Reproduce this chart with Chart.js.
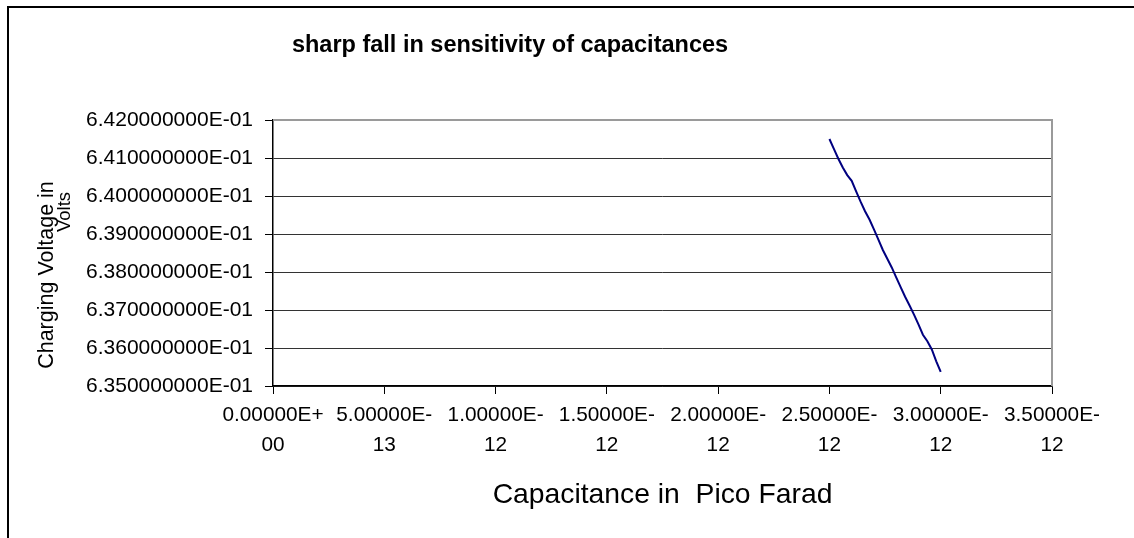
<!DOCTYPE html>
<html>
<head>
<meta charset="utf-8">
<script src="https://cdn.jsdelivr.net/npm/chart.js@4.4.1/dist/chart.umd.min.js"></script>
<style>
  html, body { margin: 0; padding: 0; background: #fff; }
  #wrap { width: 1134px; height: 538px; position: relative; }
</style>
</head>
<body>
<div id="wrap"><canvas id="c" width="1134" height="538"></canvas></div>
<script>
// ---- data (capacitance in farads, voltage in volts) ----
const capacitance = [
  2.50e-12, 2.52e-12, 2.54e-12, 2.56e-12, 2.58e-12, 2.60e-12, 2.62e-12, 2.64e-12,
  2.66e-12, 2.68e-12, 2.70e-12, 2.72e-12, 2.74e-12, 2.76e-12, 2.78e-12, 2.80e-12,
  2.82e-12, 2.84e-12, 2.86e-12, 2.88e-12, 2.90e-12, 2.92e-12, 2.94e-12, 2.96e-12,
  2.98e-12, 3.00e-12
];
const voltage = [
  0.64150, 0.64124, 0.64098, 0.64075, 0.64055, 0.64040, 0.64012, 0.63985,
  0.63960, 0.63938, 0.63912, 0.63885, 0.63858, 0.63835, 0.63812, 0.63786,
  0.63760, 0.63735, 0.63712, 0.63688, 0.63662, 0.63635, 0.63618, 0.63596,
  0.63565, 0.63537
];
const xTickValues = [0, 0.5e-12, 1.0e-12, 1.5e-12, 2.0e-12, 2.5e-12, 3.0e-12, 3.5e-12];
const xTickLabels = [
  ["0.00000E+", "00"], ["5.00000E-", "13"], ["1.00000E-", "12"], ["1.50000E-", "12"],
  ["2.00000E-", "12"], ["2.50000E-", "12"], ["3.00000E-", "12"], ["3.50000E-", "12"]
];
const yTickValues = [0.635, 0.636, 0.637, 0.638, 0.639, 0.640, 0.641, 0.642];
const yTickLabels = [
  "6.350000000E-01", "6.360000000E-01", "6.370000000E-01", "6.380000000E-01",
  "6.390000000E-01", "6.400000000E-01", "6.410000000E-01", "6.420000000E-01"
];
const chartTitle = "sharp fall in sensitivity of capacitances";
const xTitle = "Capacitance in  Pico Farad";
const yTitleLines = ["Charging Voltage in", "Volts"];

const FONT = "Arial, 'Liberation Sans', Helvetica, sans-serif";

const decor = {
  id: 'decor',
  beforeDraw(chart) {
    const ctx = chart.ctx;
    ctx.save();
    ctx.fillStyle = '#fff';
    ctx.fillRect(0, 0, chart.width, chart.height);
    ctx.restore();
  },
  afterDraw(chart) {
    const ctx = chart.ctx;
    const a = chart.chartArea;
    ctx.save();
    // outer frame (top & left)
    ctx.fillStyle = '#000';
    ctx.fillRect(7, 6, chart.width - 7, 2);
    ctx.fillRect(7, 6, 2, chart.height - 6);
    // plot area top/right border (grey)
    ctx.strokeStyle = '#9a9a9a';
    ctx.lineWidth = 2;
    ctx.beginPath();
    ctx.moveTo(a.left, a.top);
    ctx.lineTo(a.right, a.top);
    ctx.lineTo(a.right, a.bottom);
    ctx.stroke();
    // title
    ctx.fillStyle = '#000';
    ctx.textAlign = 'center';
    ctx.textBaseline = 'alphabetic';
    ctx.font = "bold 23.5px " + FONT;
    ctx.fillText(chartTitle, 510, 52);
    // x axis title
    ctx.font = "28.3px " + FONT;
    ctx.fillText(xTitle, (a.left + a.right) / 2, 503);
    // y axis title (rotated, two lines)
    ctx.save();
    ctx.translate(53, 275);
    ctx.rotate(-Math.PI / 2);
    ctx.font = "21.5px " + FONT;
    ctx.fillText(yTitleLines[0], 0, 0);
    ctx.restore();
    ctx.save();
    ctx.translate(70, 212);
    ctx.rotate(-Math.PI / 2);
    ctx.font = "18.5px " + FONT;
    ctx.fillText(yTitleLines[1], 0, 0);
    ctx.restore();
    ctx.restore();
  }
};

new Chart(document.getElementById('c'), {
  type: 'scatter',
  data: {
    datasets: [{
      data: capacitance.map((c, i) => ({ x: c, y: voltage[i] })),
      showLine: true,
      borderColor: '#000080',
      borderWidth: 2,
      pointRadius: 0,
      pointHoverRadius: 0,
      tension: 0,
      fill: false
    }]
  },
  options: {
    responsive: false,
    animation: false,
    events: [],
    layout: { padding: { top: 120, right: 82, left: 0, bottom: 0 } },
    plugins: {
      legend: { display: false },
      title: { display: false },
      tooltip: { enabled: false }
    },
    scales: {
      x: {
        type: 'linear',
        min: 0,
        max: 3.5e-12,
        afterBuildTicks(scale) { scale.ticks = xTickValues.map(v => ({ value: v })); },
        afterFit(scale) { scale.height = 152; },
        grid: { drawOnChartArea: false, tickLength: 8, tickColor: '#000', lineWidth: 1 },
        border: { color: '#000', width: 1.5 },
        ticks: {
          autoSkip: false,
          maxRotation: 0,
          minRotation: 0,
          padding: 6,
          color: '#000',
          font: { family: FONT, size: 20.8, lineHeight: 1.44 },
          callback: (v, i) => xTickLabels[i]
        }
      },
      y: {
        type: 'linear',
        min: 0.635,
        max: 0.642,
        afterBuildTicks(scale) { scale.ticks = yTickValues.map(v => ({ value: v })); },
        afterFit(scale) { scale.width = 273; },
        grid: {
          drawOnChartArea: true,
          color: '#333',
          lineWidth: 1,
          tickLength: 8,
          tickColor: '#000'
        },
        border: { color: '#000', width: 1.5 },
        ticks: {
          autoSkip: false,
          padding: 12,
          color: '#000',
          font: { family: FONT, size: 21 },
          callback: (v, i) => yTickLabels[i]
        }
      }
    }
  },
  plugins: [decor]
});
</script>
</body>
</html>
